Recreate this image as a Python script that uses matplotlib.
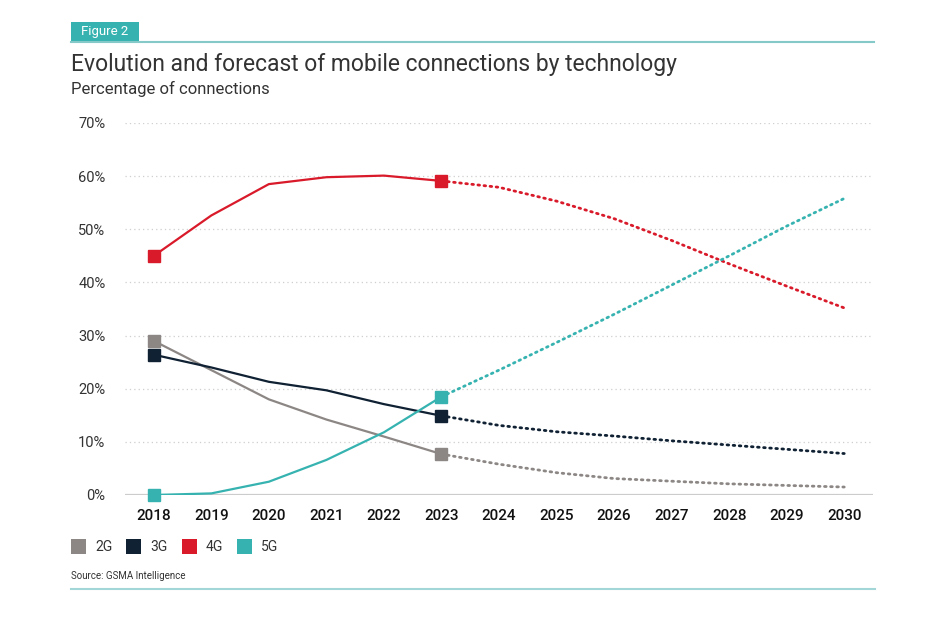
import matplotlib
matplotlib.use("Agg")
import matplotlib.pyplot as plt
from matplotlib.patches import Rectangle
from matplotlib.lines import Line2D

years = [2018, 2019, 2020, 2021, 2022, 2023, 2024, 2025, 2026, 2027, 2028, 2029, 2030]
g2 = [29.0, 23.5, 18.0, 14.2, 11.0, 7.7, 5.8, 4.2, 3.1, 2.6, 2.1, 1.8, 1.5]
g3 = [26.4, 24.0, 21.3, 19.7, 17.1, 14.9, 13.1, 11.9, 11.1, 10.2, 9.4, 8.6, 7.8]
g4 = [45.0, 52.6, 58.5, 59.8, 60.1, 59.1, 57.9, 55.3, 52.0, 47.9, 43.5, 39.3, 35.2]
g5 = [0.0, 0.3, 2.5, 6.6, 11.8, 18.5, 23.5, 28.7, 34.0, 39.5, 45.0, 50.6, 55.8]
series_names = ["2G", "3G", "4G", "5G"]
colors = ["#8c8785", "#0f2133", "#d91a2a", "#36b3b0"]
yticks = [0, 10, 20, 30, 40, 50, 60, 70]
split_year = 2023

plt.rcParams['font.family'] = ['Roboto', 'DejaVu Sans']
fig = plt.figure(figsize=(9.53, 6.42), dpi=100)
ax = fig.add_axes([125/953, 1-495/642, (873-125)/953, (495-123)/642])

si = years.index(split_year)
for vals, c in zip([g2, g3, g4, g5], colors):
    ax.plot(years[:si+1], vals[:si+1], color=c, lw=1.6, solid_capstyle='butt', zorder=3)
    ax.plot(years[si:], vals[si:], color=c, lw=2.0, linestyle=(0, (0.6, 1.6)),
            dash_capstyle='round', zorder=3)
    ax.plot([years[0], years[si]], [vals[0], vals[si]], linestyle='none', marker='s',
            markersize=8, color=c, clip_on=False, zorder=4)

ax.set_xlim(2017.5, 2030.5)
ax.set_ylim(0, 70)
ax.set_yticks(yticks)
ax.set_yticklabels([f"{v}%" for v in yticks])
ax.set_xticks(years)
ax.set_xticklabels([str(y) for y in years])
for s in ax.spines.values():
    s.set_visible(False)
ax.tick_params(length=0)
ax.tick_params(axis='y', pad=14, labelsize=10.5, labelcolor='#333333')
ax.tick_params(axis='x', pad=10, labelsize=11, labelcolor='#111111')
for lbl in ax.get_xticklabels():
    lbl.set_fontweight('medium')
for v in yticks[1:]:
    ax.axhline(v, color='#cfcfcf', lw=0.9, linestyle=(0, (1, 2.5)), zorder=1)
ax.axhline(0, color='#cccccc', lw=1.6, zorder=2)

# Header
fig.add_artist(Rectangle((71/953, 1-41/642), (139-71)/953, 19/642,
                         transform=fig.transFigure, color='#36b3b0', lw=0))
fig.text(105/953, 1-31.5/642, "Figure 2", color='white', fontsize=9.5, ha='center', va='center')
fig.add_artist(Line2D([71/953, 874/953], [1-41.5/642, 1-41.5/642], transform=fig.transFigure,
                      color='#85c9c9', lw=1.5))
fig.text(71/953, 1-65/642, "Evolution and forecast of mobile connections by technology",
         fontsize=16.5, color='#333333', va='center', ha='left')
fig.text(71/953, 1-89/642, "Percentage of connections", fontsize=12, color='#333333',
         va='center', ha='left')

# Legend
lx = [71, 126, 182, 237]
for x0, name, c in zip(lx, series_names, colors):
    fig.add_artist(Rectangle((x0/953, 1-554/642), 15/953, 15/642, transform=fig.transFigure,
                             color=c, lw=0))
    fig.text((x0+24)/953, 1-547/642, name, fontsize=10, color='#333333', va='center', ha='left')

fig.text(71/953, 1-576/642, "Source: GSMA Intelligence", fontsize=7, color='#333333',
         va='center', ha='left')
fig.add_artist(Line2D([71/953, 875/953], [1-589/642, 1-589/642], transform=fig.transFigure,
                      color='#a3d6d6', lw=1.5))

fig.savefig("out.png", dpi=100, facecolor='white')
